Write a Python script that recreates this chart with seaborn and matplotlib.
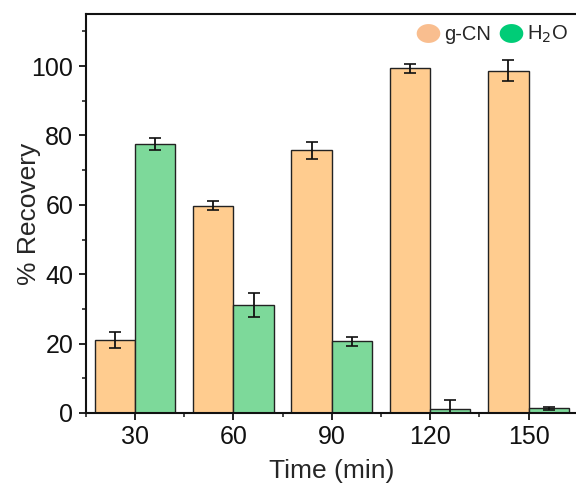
import matplotlib
matplotlib.use("Agg")
import matplotlib.pyplot as plt
import seaborn as sns
import pandas as pd
import numpy as np
from matplotlib.lines import Line2D
from matplotlib.path import Path
from matplotlib.ticker import MultipleLocator

times = ["30", "60", "90", "120", "150"]
gcn = [21.0, 59.8, 75.7, 99.3, 98.7]
gcn_err = [2.2, 1.2, 2.5, 1.3, 3.0]
h2o = [77.6, 31.2, 20.6, 1.0, 1.3]
h2o_err = [1.8, 3.5, 1.2, 2.7, 0.5]

sns.set_style("ticks")
plt.rcParams['font.family'] = ['Liberation Sans', 'DejaVu Sans']

df = pd.DataFrame({
    "Time": times * 2,
    "Recovery": gcn + h2o,
    "Sample": ["g-CN"] * 5 + ["H2O"] * 5,
})

fig = plt.figure(figsize=(5.76, 4.83), dpi=100)
ax = fig.add_axes([0.149, 0.145, 0.854, 0.826])

bar_colors = {"g-CN": "#FFCC8F", "H2O": "#7DD99A"}
sns.barplot(data=df, x="Time", y="Recovery", hue="Sample", palette=bar_colors,
            saturation=1, width=0.82, errorbar=None, edgecolor="#222222",
            linewidth=1.0, ax=ax, legend=False)

# error bars
n = len(times)
patches = ax.patches[:2 * n]
errs = gcn_err + h2o_err
vals = gcn + h2o
for p, v, e in zip(patches, vals, errs):
    cx = p.get_x() + p.get_width() / 2
    ax.errorbar(cx, v, yerr=e, fmt="none", ecolor="#111111",
                elinewidth=1.3, capsize=4, capthick=1.2)

ax.set_ylim(0, 115)
ax.set_xlim(-0.5, 4.5)
ax.yaxis.set_major_locator(MultipleLocator(20))
ax.yaxis.set_minor_locator(MultipleLocator(10))
ax.set_xticks(range(n))
ax.set_xticks(np.arange(-0.5, n, 1.0), minor=True)
ax.set_xticklabels(times)

ax.tick_params(axis="both", which="major", direction="out", length=5, width=1.3,
               labelsize=18, colors="#111111", pad=4)
ax.tick_params(axis="both", which="minor", direction="out", length=3, width=1.2)
ax.set_xlabel("Time (min)", fontsize=19, labelpad=7)
ax.set_ylabel("% Recovery", fontsize=19, labelpad=-7)

for s in ["left", "bottom", "top", "right"]:
    ax.spines[s].set_visible(True)
    ax.spines[s].set_linewidth(1.5)
    ax.spines[s].set_color("#111111")

t = np.linspace(0, 2 * np.pi, 60)
ell = Path(np.column_stack([1.25 * np.cos(t), np.sin(t)]), closed=True)
handles = [
    Line2D([0], [0], marker=ell, color="none", markerfacecolor="#F9BE8F",
           markeredgecolor="none", markersize=17, label="g-CN"),
    Line2D([0], [0], marker=ell, color="none", markerfacecolor="#00CC77",
           markeredgecolor="none", markersize=17, label="H$_2$O"),
]
ax.legend(handles=handles, loc="upper right", ncol=2, frameon=False,
          fontsize=14.5, handletextpad=0.15, columnspacing=0.3,
          handlelength=1.3, borderaxespad=0.1, bbox_to_anchor=(1.0, 1.0))

fig.savefig("out.png", dpi=100)
